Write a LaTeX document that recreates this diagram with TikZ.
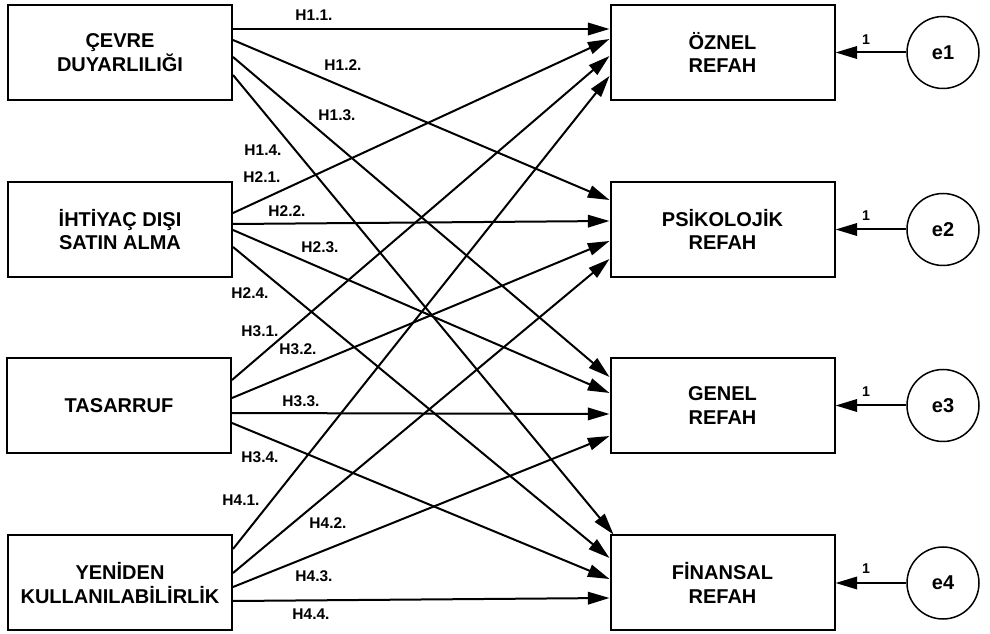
\documentclass[tikz,border=0pt]{standalone}
\usepackage{fontspec}
\setmainfont{Liberation Sans}
\usetikzlibrary{arrows.meta,calc}

\begin{document}
\begin{tikzpicture}[x=0.6pt,y=-0.6pt,line width=1.2pt,
  varbox/.style={draw,rectangle,minimum width=134.4pt,minimum height=57pt,align=center,
    font=\fontsize{12}{14}\selectfont\bfseries},
  errc/.style={draw,circle,minimum size=43.2pt,inner sep=0pt,line width=0.9pt,
    font=\fontsize{12}{14}\selectfont\bfseries},
  hyp/.style={-{Triangle[length=13pt,width=7.5pt]}},
  hlab/.style={font=\fontsize{9.3}{10}\selectfont\bfseries,inner sep=0pt},
  onelab/.style={font=\fontsize{8.5}{9}\selectfont\bfseries,inner sep=0pt}]
\useasboundingbox (0,0) rectangle (990,634);

% independent variables
\node[varbox] (c1) at (120,52.5) {ÇEVRE\\DUYARLILIĞI};
\node[varbox] (c2) at (120,229.5) {İHTİYAÇ DIŞI\\SATIN ALMA};
\node[varbox] (c3) at (119,405.5) {TASARRUF};
\node[varbox] (c4) at (120,583) {YENİDEN\\KULLANILABİLİRLİK};

% dependent variables
\node[varbox] (o1) at (722.5,52.5) {ÖZNEL\\REFAH};
\node[varbox] (o2) at (722.5,229.5) {PSİKOLOJİK\\REFAH};
\node[varbox] (o3) at (722.5,405.5) {GENEL\\REFAH};
\node[varbox] (o4) at (722.5,583) {FİNANSAL\\REFAH};

% error terms
\node[errc] (e1) at (943,52.5) {e1};
\node[errc] (e2) at (943,229.5) {e2};
\node[errc] (e3) at (943,405.5) {e3};
\node[errc] (e4) at (943,583) {e4};
\draw[hyp] (e1)--(o1);
\draw[hyp] (e2)--(o2);
\draw[hyp] (e3)--(o3);
\draw[hyp] (e4)--(o4);
\node[onelab] (w1) at (866,40) {1};
\node[onelab] (w2) at (866,216) {1};
\node[onelab] (w3) at (866,392) {1};
\node[onelab] (w4) at (866,569) {1};

% hypotheses
\draw[hyp] ($(c1.east)+(0,-23.5)$)--($(o1.west)+(0,-23.5)$);
\draw[hyp] ($(c1.east)+(0,-12.5)$)--($(o2.west)+(0,-29.5)$);
\draw[hyp] ($(c1.east)+(0,4.5)$)--($(o3.west)+(0,-28.5)$);
\draw[hyp] ($(c1.east)+(0,22.5)$)--($(o4.north west)+(4,0)$);
\draw[hyp] ($(c2.east)+(0,-16.5)$)--($(o1.west)+(0,-13.5)$);
\draw[hyp] ($(c2.east)+(0,-5.5)$)--($(o2.west)+(0,-8.5)$);
\draw[hyp] ($(c2.east)+(0,0.5)$)--($(o3.west)+(0,-12.5)$);
\draw[hyp] ($(c2.east)+(0,17.5)$)--($(o4.west)+(0,-25)$);
\draw[hyp] ($(c3.east)+(0,-25.5)$)--($(o1.west)+(0,3.5)$);
\draw[hyp] ($(c3.east)+(0,-7.5)$)--($(o2.west)+(0,11.5)$);
\draw[hyp] ($(c3.east)+(0,7.5)$)--($(o3.west)+(0,8.5)$);
\draw[hyp] ($(c3.east)+(0,17.5)$)--($(o4.west)+(0,-4)$);
\draw[hyp] ($(c4.east)+(0,-34)$)--($(o1.west)+(0,23.5)$);
\draw[hyp] ($(c4.east)+(0,-10)$)--($(o2.west)+(0,29.5)$);
\draw[hyp] ($(c4.east)+(0,4)$)--($(o3.west)+(0,30.5)$);
\draw[hyp] ($(c4.east)+(0,18)$)--($(o4.west)+(0,15)$);

\node[hlab] (h11) at (314,15) {H1.1.};
\node[hlab] (h12) at (343,65) {H1.2.};
\node[hlab] (h13) at (337,115) {H1.3.};
\node[hlab] (h14) at (263,150) {H1.4.};
\node[hlab] (h21) at (262,177) {H2.1.};
\node[hlab] (h22) at (287,211) {H2.2.};
\node[hlab] (h23) at (320,247) {H2.3.};
\node[hlab] (h24) at (250,293) {H2.4.};
\node[hlab] (h31) at (260,331) {H3.1.};
\node[hlab] (h32) at (298,349) {H3.2.};
\node[hlab] (h33) at (301,401) {H3.3.};
\node[hlab] (h34) at (260,457) {H3.4.};
\node[hlab] (h41) at (241,500) {H4.1.};
\node[hlab] (h42) at (328,523) {H4.2.};
\node[hlab] (h43) at (314,576) {H4.3.};
\node[hlab] (h44) at (311,614) {H4.4.};
\end{tikzpicture}
\end{document}
